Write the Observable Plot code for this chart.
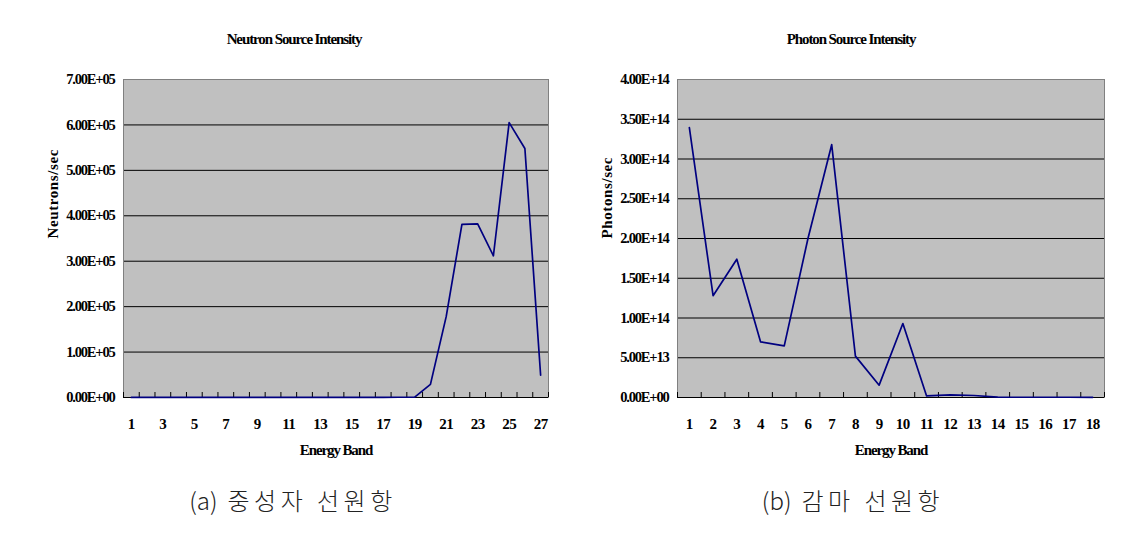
<!DOCTYPE html>
<html>
<head>
<meta charset="utf-8">
<script src="https://cdn.jsdelivr.net/npm/d3@7"></script>
<script src="https://cdn.jsdelivr.net/npm/@observablehq/plot@0.6"></script>
<style>
  html, body { margin: 0; padding: 0; background: #fff; }
  #wrap { position: relative; width: 1135px; height: 545px; overflow: hidden; background: #fff; }
  .panel { position: absolute; top: 0; }
  .caption { position: absolute; top: 482px; font-family: "Noto Sans CJK KR", sans-serif; font-weight: 300; font-size: 24px; color: #222; white-space: nowrap; transform: translateX(-50%); }
  .caption .lat { letter-spacing: 0px; margin-right: 10px; }
  .caption .han { letter-spacing: 4.5px; }
</style>
</head>
<body>
<div id="wrap">
  <div id="left" class="panel" style="left:0px"></div>
  <div id="right" class="panel" style="left:560px"></div>
  <div class="caption" id="capA" style="left:293px"></div>
  <div class="caption" id="capB" style="left:853px"></div>
</div>
<script>
// ---- Data ----
const neutronBands = [1,2,3,4,5,6,7,8,9,10,11,12,13,14,15,16,17,18,19,20,21,22,23,24,25,26,27];
const neutronValues = [200,200,200,200,200,200,200,200,200,200,200,200,200,200,200,200,300,500,800,29000,178000,381000,382000,312000,605000,548000,49000];
const neutronTickLabels = [1,3,5,7,9,11,13,15,17,19,21,23,25,27];
const neutronYTicks = [0,1e5,2e5,3e5,4e5,5e5,6e5,7e5];

const photonBands = [1,2,3,4,5,6,7,8,9,10,11,12,13,14,15,16,17,18];
const photonValues = [3.395e14,1.28e14,1.74e14,7.0e13,6.5e13,2.0e14,3.18e14,5.2e13,1.55e13,9.3e13,2.0e12,3.4e12,2.5e12,5e11,3e11,3e11,3e11,2e11];
const photonTickLabels = [1,2,3,4,5,6,7,8,9,10,11,12,13,14,15,16,17,18];
const photonYTicks = [0,5e13,1e14,1.5e14,2e14,2.5e14,3e14,3.5e14,4e14];

const titles = ["Neutron Source Intensity", "Photon Source Intensity"];
const yLabels = ["Neutrons/sec", "Photons/sec"];
const xLabel = "Energy Band";
const captionLabels = ["(a)", "(b)"];
const captionTexts = ["중성자 선원항", "감마 선원항"];

// ---- Helpers ----
const sci = d => {
  if (d === 0) return "0.00E+00";
  const [m, e] = d.toExponential(2).split("e");
  const n = +e;
  return m + "E" + (n < 0 ? "-" : "+") + String(Math.abs(n)).padStart(2, "0");
};

function chart({bands, values, tickLabels, yTicks, title, yLabel, width, marginLeft, marginRight, titleDx, yLabelOffset}) {
  const boundaries = bands.map(b => b - 0.5).concat([bands[bands.length - 1] + 0.5]);
  const svg = Plot.plot({
    width, height: 470,
    marginLeft, marginRight, marginTop: 79, marginBottom: 73,
    style: {fontFamily: "'Liberation Serif', serif", fontWeight: "bold", fontSize: "15px", background: "transparent", color: "#000"},
    x: {domain: [bands[0] - 0.5, bands[bands.length - 1] + 0.5]},
    y: {domain: [yTicks[0], yTicks[yTicks.length - 1]]},
    marks: [
      Plot.frame({fill: "#c0c0c0", stroke: null}),
      Plot.ruleY(yTicks.slice(1, -1), {stroke: "#000", strokeWidth: 1}),
      Plot.frame({stroke: "#808080", strokeWidth: 1}),
      Plot.ruleY([yTicks[0]], {stroke: "#000", strokeWidth: 1.2}),
      Plot.axisY({ticks: yTicks, tickFormat: sci, tickSize: 0, tickPadding: 9, label: null, fontSize: 14.5}),
      Plot.axisX({ticks: boundaries, tickSize: -5, text: null, label: null, stroke: "#000"}),
      Plot.axisX({ticks: tickLabels, tickSize: 0, tickPadding: 21, tickFormat: d => String(d), label: null, fontSize: 15}),
      Plot.text([yLabel], {frameAnchor: "left", dx: -yLabelOffset, rotate: -90, fontSize: 15}),
      Plot.text([xLabel], {frameAnchor: "bottom", dy: 57, fontSize: 15}),
      Plot.text([title], {frameAnchor: "top", dx: titleDx, dy: -46, fontSize: 15}),
      Plot.line(bands, {x: d => d, y: (d, i) => values[i], stroke: "#000080", strokeWidth: 1.7})
    ]
  });
  const s = d3.select(svg);
  s.selectAll('[aria-label="y-axis tick label"] text').attr("letter-spacing", "-1.2px");
  s.selectAll('[aria-label="x-axis tick label"] text').attr("letter-spacing", "-0.5px");
  s.selectAll("text").each(function () {
    const t = this.textContent;
    if (t === title) this.setAttribute("letter-spacing", "-1.1px");
    else if (t === xLabel) this.setAttribute("letter-spacing", "-1.1px");
    else if (t === yLabel) this.setAttribute("letter-spacing", "0.6px");
  });
  return svg;
}

document.getElementById("left").append(chart({
  bands: neutronBands, values: neutronValues, tickLabels: neutronTickLabels, yTicks: neutronYTicks,
  title: titles[0], yLabel: yLabels[0], width: 560, marginLeft: 123, marginRight: 12, titleDx: -42, yLabelOffset: 70
}));
document.getElementById("right").append(chart({
  bands: photonBands, values: photonValues, tickLabels: photonTickLabels, yTicks: photonYTicks,
  title: titles[1], yLabel: yLabels[1], width: 575, marginLeft: 117, marginRight: 31, titleDx: -40, yLabelOffset: 70
}));
["capA", "capB"].forEach((id, i) => {
  const el = document.getElementById(id);
  const a = document.createElement("span"); a.className = "lat"; a.textContent = captionLabels[i];
  const b = document.createElement("span"); b.className = "han"; b.textContent = captionTexts[i];
  el.append(a, b);
});
</script>
</body>
</html>
